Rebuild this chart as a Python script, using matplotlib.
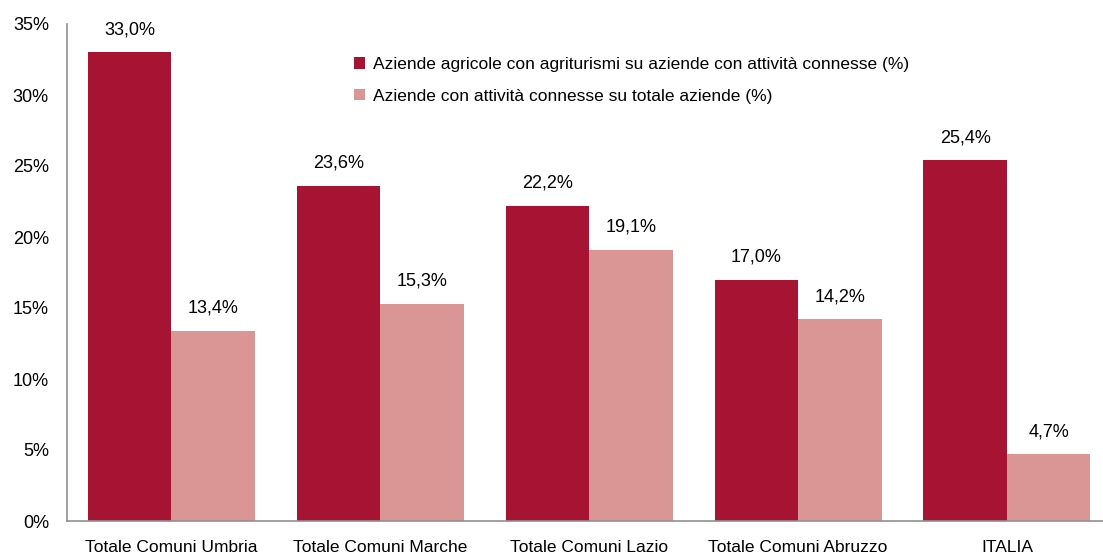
import numpy as np
import matplotlib.pyplot as plt

plt.rcParams['font.family'] = ['Liberation Sans', 'DejaVu Sans']

categories = ['Totale Comuni Umbria', 'Totale Comuni Marche', 'Totale Comuni Lazio',
              'Totale Comuni Abruzzo', 'ITALIA']
agriturismi = [33.0, 23.6, 22.2, 17.0, 25.4]
connesse = [13.4, 15.3, 19.1, 14.2, 4.7]
series_names = ['Aziende agricole con agriturismi su aziende con attività connesse (%)',
                'Aziende con attività connesse su totale aziende (%)']

dark = '#A71433'
light = '#D99694'

fig = plt.figure(figsize=(11.03, 5.55), dpi=100)
ax = fig.add_axes([67 / 1103, 34 / 555, 1 - 67 / 1103, 497 / 555])

x = np.arange(len(categories))
w = 0.4
b1 = ax.bar(x - w / 2, agriturismi, w, color=dark, label=series_names[0])
b2 = ax.bar(x + w / 2, connesse, w, color=light, label=series_names[1])

for bars, vals in ((b1, agriturismi), (b2, connesse)):
    for r, v in zip(bars, vals):
        ax.text(r.get_x() + r.get_width() / 2, v + 1.0, f'{v:.1f}%'.replace('.', ','),
                ha='center', va='bottom', fontsize=13)

ax.set_xlim(-0.5, 4.46)
ax.set_ylim(0, 35)
ax.set_yticks(range(0, 36, 5))
ax.set_yticklabels([f'{t}%' for t in range(0, 36, 5)], fontsize=13)
ax.set_xticks(x)
ax.set_xticklabels(categories, fontsize=12.5)
ax.tick_params(length=0)
ax.tick_params(axis='x', pad=14)
ax.tick_params(axis='y', pad=13)

for s in ('top', 'right'):
    ax.spines[s].set_visible(False)
for s in ('left', 'bottom'):
    ax.spines[s].set_color('#909090')
    ax.spines[s].set_linewidth(1.2)

ax.legend(loc='upper left', bbox_to_anchor=(0.262, 0.965), frameon=False, fontsize=12.5,
          handlelength=0.65, handleheight=0.65, handletextpad=0.45, labelspacing=0.95)

fig.savefig('out.png', dpi=100)
